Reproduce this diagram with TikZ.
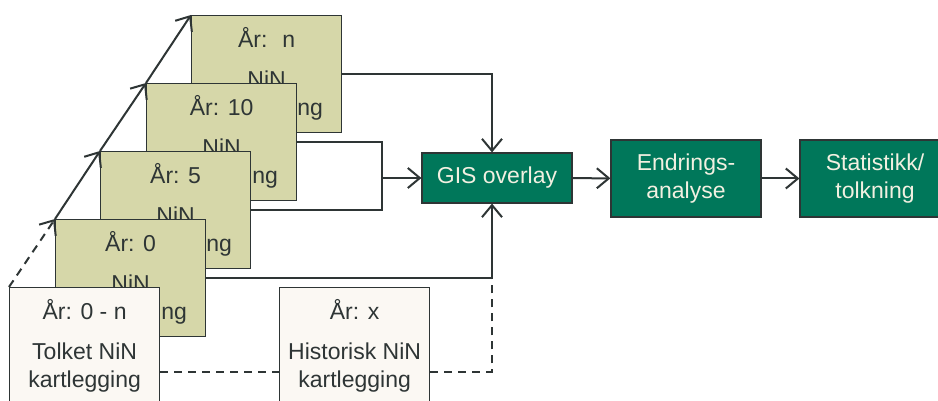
\documentclass[tikz,border=0pt]{standalone}
\usepackage{fontspec}
\setmainfont{Liberation Sans}
\usetikzlibrary{arrows.meta, positioning}
\definecolor{mapolive}{HTML}{D6D7A9}
\definecolor{mapcream}{HTML}{FBF8F3}
\definecolor{mapgreen}{HTML}{00775A}
\definecolor{mapink}{HTML}{2E3535}
\definecolor{mappaper}{HTML}{F2F0E1}
\tikzset{
  yearbox/.style={
    rectangle,
    draw=mapink,
    line width=0.6pt,
    fill=mapolive,
    text=mapink,
    align=center,
    minimum width=75pt,
    minimum height=58.5pt,
    inner sep=0pt,
    anchor=north west,
    font=\fontsize{11.5}{14}\selectfont
  },
  histbox/.style={
    yearbox,
    fill=mapcream
  },
  stepbox/.style={
    rectangle,
    draw=mapink,
    line width=0.6pt,
    fill=mapgreen,
    text=mappaper,
    align=center,
    minimum width=75pt,
    minimum height=38.5pt,
    inner sep=0pt,
    font=\fontsize{11.5}{14}\selectfont
  },
  arrow/.style={-{Straight Barb[length=6pt, width=10pt]}, line width=1pt, draw=mapink},
  dashline/.style={line width=1pt, draw=mapink, dash pattern=on 4pt off 3pt},
  dasharrow/.style={arrow, dash pattern=on 4pt off 3pt}
}

\begin{document}
\begin{tikzpicture}[x=0.5pt,y=-0.5pt]
\clip (0,0) rectangle (938,401);
\node[yearbox] (yearn) at (191,15) {År:~ n\\[6pt]NiN\\kartlegging};
\node[yearbox] (year10) at (146,83) {År: 10\\[6pt]NiN\\kartlegging};
\node[yearbox] (year5) at (100,151) {År: 5\\[6pt]NiN\\kartlegging};
\node[yearbox] (year0) at (55,219) {År: 0\\[6pt]NiN\\kartlegging};
\node[histbox] (tolket) at (9,287) {År: 0 - n\\[6pt]Tolket NiN\\kartlegging};
\node[histbox] (historisk) at (279,287) {År: x\\[6pt]Historisk NiN\\kartlegging};
\node[stepbox, minimum height=25pt] (gis) at (497,178) {GIS overlay};
\node[stepbox] (endring) at (686,178.5) {Endrings-\\analyse};
\node[stepbox] (statistikk) at (875,178.5) {Statistikk/\\tolkning};

\coordinate (join) at (382,178);
\coordinate (merge) at (492,277.5);

% tidslinje
\draw[dasharrow] (tolket.north west) -- (year0.north west);
\draw[arrow] (year0.north west) -- (year5.north west);
\draw[arrow] (year5.north west) -- (year10.north west);
\draw[arrow] (year10.north west) -- (yearn.north west);

% inn til GIS
\draw[arrow] (yearn.east) -| ([xshift=-2.5pt]gis.north);
\draw[line width=1pt, draw=mapink] (year10.east) -| (join) |- (year5.east);
\draw[arrow] (join) -- (gis.west);
\draw[arrow] (year0.east) -| ([xshift=-2.5pt]gis.south);
\draw[dashline] ([yshift=-12.75pt]tolket.east) -- ([yshift=-12.75pt]historisk.west);
\draw[dashline] ([yshift=-12.75pt]historisk.east) -| (merge);

\draw[arrow] (gis) -- (endring);
\draw[arrow] (endring) -- (statistikk);
\end{tikzpicture}
\end{document}
